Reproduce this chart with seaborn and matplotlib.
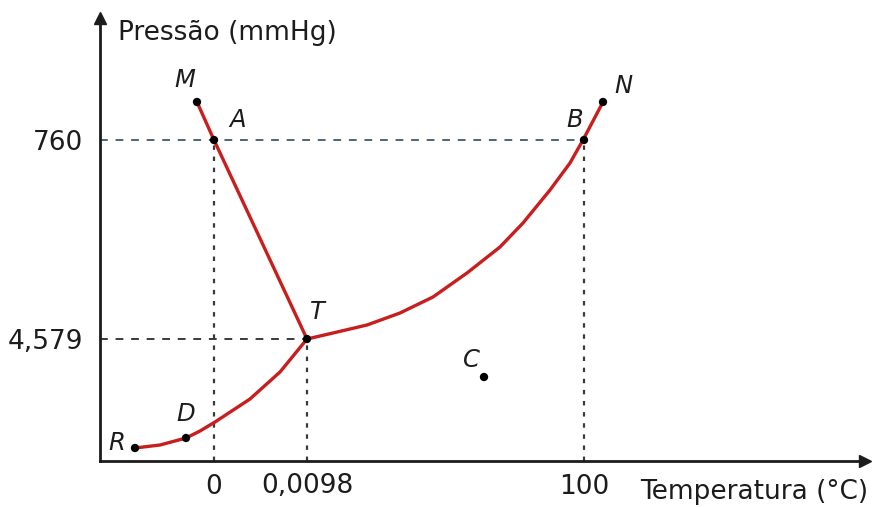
import numpy as np
import pandas as pd
import seaborn as sns
import matplotlib.pyplot as plt

sns.set_theme(style='white')
plt.rcParams['font.family'] = ['DejaVu Sans']

# schematic positions (diagram units)
fusao_x = [97, 114, 207]
fusao_y = [359, 321, 122]
vapor_x = [207, 233, 267, 300, 333, 367, 400, 423, 450, 470, 483, 503]
vapor_y = [122, 128, 136, 148, 164, 188, 214, 238, 271, 298, 321, 359]
subl_x = [35, 60, 86, 100, 115, 150, 180, 207]
subl_y = [13, 16, 23, 30, 39, 62, 89, 122]

pontos = ['M', 'A', 'T', 'B', 'N', 'R', 'D', 'C']
pontos_x = [97, 114, 207, 484, 503, 35, 86, 384]
pontos_y = [359, 321, 122, 321, 359, 13, 23, 84]

xticks = [114, 207, 484]
xtick_labels = ['0', '0,0098', '100']
yticks = [122, 321]
ytick_labels = ['4,579', '760']

red = '#c81e1e'
ink = '#1c1c1c'

fig = plt.figure(figsize=(8.74, 5.07), dpi=100)
ax = fig.add_axes([100/874, 46/507, 765/874, 443/507])

for xs, ys in [(fusao_x, fusao_y), (vapor_x, vapor_y), (subl_x, subl_y)]:
    df = pd.DataFrame({'x': xs, 'y': ys})
    sns.lineplot(data=df, x='x', y='y', sort=False, estimator=None,
                 color=red, lw=2.4, ax=ax, zorder=3)

# guide lines
ax.hlines(yticks[1], 0, xticks[2], colors='#4d6678', linestyles=(0, (4, 4)), lw=1.4, zorder=1)
ax.hlines(yticks[0], 0, xticks[1], colors='#3a3a3a', linestyles=(0, (4, 4)), lw=1.4, zorder=1)
ax.vlines(xticks[0], 0, yticks[1], colors='#3a3a3a', linestyles=(0, (2, 3)), lw=1.6, zorder=1)
ax.vlines(xticks[1], 0, yticks[0], colors='#3a3a3a', linestyles=(0, (2, 3)), lw=1.6, zorder=1)
ax.vlines(xticks[2], 0, yticks[1], colors='#3a3a3a', linestyles=(0, (2, 3)), lw=1.6, zorder=1)

pts = pd.DataFrame({'p': pontos, 'x': pontos_x, 'y': pontos_y})
sns.scatterplot(data=pts, x='x', y='y', color='black', s=36, edgecolor='none', ax=ax, zorder=4)

offsets = {'M': (-12, 22), 'A': (24, 20), 'T': (10, 27), 'B': (-9, 20),
           'N': (20, 16), 'R': (-18, 5), 'D': (0, 24), 'C': (-13, 17)}
for p, x, y in zip(pontos, pontos_x, pontos_y):
    dx, dy = offsets[p]
    ax.text(x + dx, y + dy, p, style='italic', fontsize=17.5, color=ink,
            ha='center', va='center', zorder=5)

ax.set_xlim(0, 765)
ax.set_ylim(0, 443)
sns.despine(ax=ax)
for s in ['left', 'bottom']:
    ax.spines[s].set_linewidth(2)
    ax.spines[s].set_color(ink)
ax.plot(1, 0, '>', color=ink, ms=9, transform=ax.get_yaxis_transform(), clip_on=False)
ax.plot(0, 1, '^', color=ink, ms=9, transform=ax.get_xaxis_transform(), clip_on=False)

ax.set_xticks(xticks, xtick_labels)
ax.set_yticks(yticks, ytick_labels)
ax.tick_params(length=0, labelsize=19, colors=ink, pad=9)
ax.tick_params(axis='y', pad=12)
ax.set_xlabel('')
ax.set_ylabel('')

ax.text(18, 428, 'Pressão (mmHg)', fontsize=19, color=ink, ha='left', va='center')
ax.text(768, -31, 'Temperatura (°C)', fontsize=19, color=ink, ha='right', va='center',
        clip_on=False)

fig.savefig('out.png', dpi=100)
